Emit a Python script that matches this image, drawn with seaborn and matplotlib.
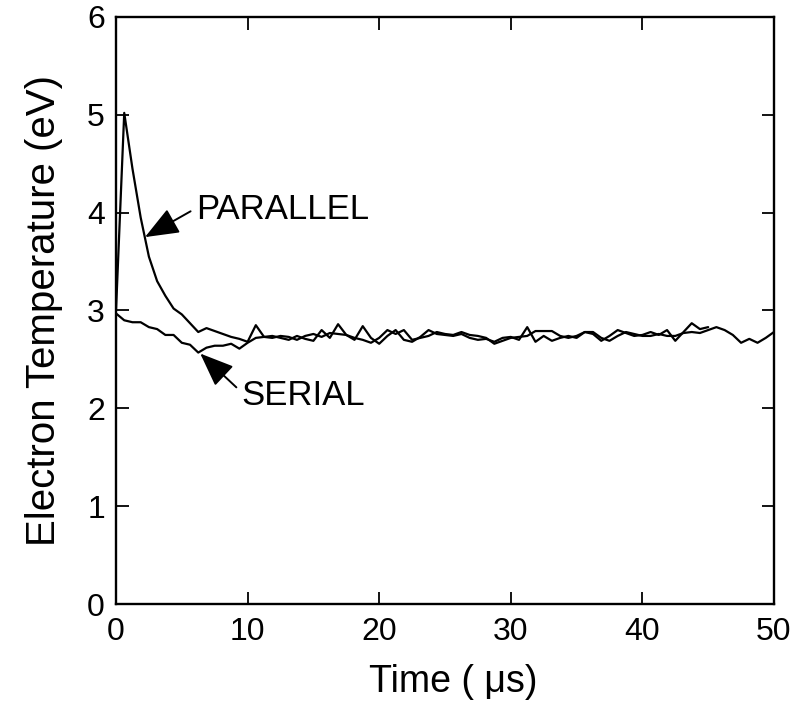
import numpy as np
import pandas as pd
import matplotlib
matplotlib.use("Agg")
import matplotlib.pyplot as plt
import seaborn as sns

# ---- data ----
dt = 0.625  # sampling step in microseconds
parallel_temp = [
    3.00, 5.02, 4.45, 3.95, 3.55, 3.30, 3.15, 3.02, 2.96, 2.87,
    2.78, 2.82, 2.79, 2.76, 2.73, 2.71, 2.68, 2.85, 2.73, 2.74,
    2.72, 2.70, 2.74, 2.71, 2.69, 2.80, 2.72, 2.86, 2.75, 2.70,
    2.84, 2.72, 2.66, 2.74, 2.80, 2.70, 2.68, 2.73, 2.80, 2.76,
    2.75, 2.74, 2.76, 2.72, 2.70, 2.71, 2.68, 2.72, 2.73, 2.70,
    2.83, 2.68, 2.74, 2.69, 2.72, 2.74, 2.72, 2.78, 2.76, 2.69,
    2.74, 2.80, 2.77, 2.74, 2.75, 2.78, 2.75, 2.80, 2.69, 2.78,
    2.87, 2.81, 2.83,
]
serial_temp = [
    2.97, 2.90, 2.88, 2.88, 2.83, 2.81, 2.75, 2.75, 2.67, 2.65,
    2.57, 2.62, 2.64, 2.64, 2.66, 2.61, 2.67, 2.72, 2.73, 2.72,
    2.74, 2.73, 2.70, 2.74, 2.76, 2.73, 2.77, 2.76, 2.75, 2.72,
    2.70, 2.67, 2.72, 2.80, 2.76, 2.80, 2.70, 2.72, 2.74, 2.78,
    2.76, 2.75, 2.78, 2.75, 2.74, 2.72, 2.66, 2.69, 2.72, 2.73,
    2.74, 2.79, 2.79, 2.79, 2.74, 2.72, 2.74, 2.78, 2.78, 2.72,
    2.69, 2.74, 2.78, 2.76, 2.74, 2.74, 2.76, 2.74, 2.74, 2.77,
    2.78, 2.77, 2.80, 2.83, 2.80, 2.75, 2.67, 2.71, 2.67, 2.72,
    2.78,
]
x_ticks = [0, 10, 20, 30, 40, 50]
y_ticks = [0, 1, 2, 3, 4, 5, 6]

parallel_time = np.arange(len(parallel_temp)) * dt
serial_time = np.arange(len(serial_temp)) * dt

df = pd.concat([
    pd.DataFrame({"time": parallel_time, "temp": parallel_temp, "mode": "PARALLEL"}),
    pd.DataFrame({"time": serial_time, "temp": serial_temp, "mode": "SERIAL"}),
], ignore_index=True)

sns.set_theme(style="ticks")
plt.rcParams["font.family"] = ["Liberation Sans", "DejaVu Sans"]
plt.rcParams["text.color"] = "black"
plt.rcParams["axes.labelcolor"] = "black"

fig = plt.figure(figsize=(8.09, 7.02), dpi=100)
ax = fig.add_axes([0.1434, 0.1396, 0.8133, 0.8362])

sns.lineplot(data=df, x="time", y="temp", units="mode", estimator=None,
             color="black", linewidth=1.6, ax=ax, legend=False)

ax.set_xlim(0, 50)
ax.set_ylim(0, 6)
ax.set_xticks(x_ticks)
ax.set_yticks(y_ticks)
ax.tick_params(direction="in", length=9, width=1.3, labelsize=23,
               top=True, right=True, colors="black")
ax.tick_params(axis="x", pad=9)
ax.tick_params(axis="y", pad=8)
for s in ax.spines.values():
    s.set_linewidth(1.7)
    s.set_color("black")
    s.set_visible(True)

ax.set_xlabel("Time ( \u03bcs)", fontsize=27, color="black")
ax.xaxis.set_label_coords(0.512, -0.103)
ax.set_ylabel("Electron Temperature (eV)", fontsize=29, labelpad=17, color="black")

arrow_kw = dict(arrowstyle="-|>,head_length=1.05,head_width=0.42",
                mutation_scale=20, color="black", lw=1.4, shrinkA=2, shrinkB=0)
ax.annotate("PARALLEL", xy=(2.2, 3.75), xytext=(6.1, 4.03),
            fontsize=25, ha="left", va="center", color="black",
            arrowprops=dict(arrow_kw, relpos=(0, 0.55)))
ax.annotate("SERIAL", xy=(6.4, 2.56), xytext=(9.55, 2.13),
            fontsize=25, ha="left", va="center", color="black",
            arrowprops=dict(arrow_kw, relpos=(0, 0.6)))

fig.savefig("out.png", dpi=100)
